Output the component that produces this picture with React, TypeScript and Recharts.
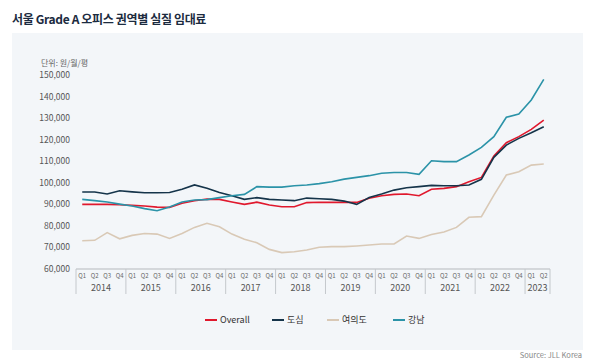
import React from "react";
import { LineChart, Line, XAxis, YAxis } from "recharts";

const years = ["2014", "2015", "2016", "2017", "2018", "2019", "2020", "2021", "2022", "2023"];
const quarters = ["Q1", "Q2", "Q3", "Q4"];

// 2014 Q1 ~ 2023 Q2
const overall = [
  90000, 90000, 90000, 89800, 89500, 89200, 88700, 88600, 90500, 91700,
  92400, 92300, 91100, 90000, 91000, 89700, 88900, 88900, 90800, 91000,
  90900, 91000, 90900, 92800, 94000, 94600, 94800, 94000, 97000, 97400,
  98200, 100500, 102500, 112400, 118600, 121400, 124800, 129100,
];
const dosim = [
  95700, 95700, 94800, 96300, 95800, 95400, 95400, 95500, 97000, 99000,
  97500, 95500, 94000, 92300, 93100, 92300, 92000, 91700, 92900, 92600,
  92300, 91500, 90000, 93200, 94800, 96600, 97700, 98200, 98800, 98600,
  98600, 99000, 101600, 111800, 117500, 120600, 123200, 126000,
];
const yeouido = [
  73100, 73300, 76900, 74000, 75600, 76500, 76200, 74200, 76500, 79300,
  81200, 79600, 76200, 73800, 72200, 69100, 67600, 68000, 68800, 70100,
  70400, 70400, 70700, 71100, 71600, 71600, 75300, 74200, 76000, 77200,
  79300, 84000, 84300, 94300, 103600, 105100, 108200, 108700,
];
const gangnam = [
  92300, 91700, 91100, 90100, 89200, 88000, 87000, 88800, 91100, 92000,
  92200, 93100, 94000, 94600, 98200, 98000, 98000, 98600, 99000, 99600,
  100500, 101700, 102500, 103300, 104400, 104800, 104800, 103900, 110200, 109800,
  109800, 112900, 116400, 121400, 130400, 131900, 138400, 148000,
];
const yTicks = [60000, 70000, 80000, 90000, 100000, 110000, 120000, 130000, 140000, 150000];

const periods = overall.map((_, i) => ({
  year: years[Math.floor(i / 4)],
  q: quarters[i % 4],
}));

const data = periods.map((p, i) => ({
  period: `${p.year} ${p.q}`,
  Overall: overall[i],
  도심: dosim[i],
  여의도: yeouido[i],
  강남: gangnam[i],
}));

const series = [
  { key: "Overall", color: "#e0182d", left: 205 },
  { key: "도심", color: "#15344a", left: 272 },
  { key: "여의도", color: "#d9c9b6", left: 327 },
  { key: "강남", color: "#2b93a8", left: 393 },
];

const FONT = "'Noto Sans CJK KR', 'Noto Sans', sans-serif";
const STEP = (550 - 76) / 38;

const QuarterTick = (props: any) => {
  const { x, y, payload } = props;
  const i = payload.index;
  const p = periods[i];
  const last = i === periods.length - 1;
  const inYear = periods.filter((d) => d.year === p.year).length;
  return (
    <g>
      <text x={x} y={y + 9} textAnchor="middle" fontSize={6} fill="#666" fontFamily={FONT}>
        {p.q}
      </text>
      {p.q === "Q1" && (
        <>
          <line x1={x - STEP / 2} x2={x - STEP / 2} y1={y} y2={y + 25} stroke="#c4c8cc" />
          <text
            x={x + ((inYear - 1) * STEP) / 2}
            y={y + 22}
            textAnchor="middle"
            fontSize={9}
            fill="#555"
            fontFamily={FONT}
          >
            {p.year}
          </text>
        </>
      )}
      {last && <line x1={x + STEP / 2} x2={x + STEP / 2} y1={y} y2={y + 25} stroke="#c4c8cc" />}
    </g>
  );
};

export default function App() {
  return (
    <div style={{ position: "absolute", left: 0, top: 0, width: 593, height: 363, background: "#fff", fontFamily: FONT }}>
      <div style={{ position: "absolute", left: 12, top: 33, width: 571, height: 317, background: "#f3f6f9" }} />
      <div style={{ position: "absolute", left: 12, top: 10, fontSize: 12, fontWeight: 700, color: "#1c2b40", letterSpacing: -0.35, whiteSpace: "nowrap" }}>
        서울 Grade A 오피스 권역별 실질 임대료
      </div>
      <div style={{ position: "absolute", left: 41, top: 57, fontSize: 8, color: "#666", whiteSpace: "nowrap" }}>
        단위: 원/월/평
      </div>
      <div style={{ position: "absolute", left: 0, top: 0 }}>
        <LineChart width={593} height={363} data={data} margin={{ top: 75, right: 43, bottom: 69, left: 12 }}>
          <XAxis
            dataKey="period"
            interval={0}
            tick={<QuarterTick />}
            tickLine={false}
            tickSize={0}
            tickMargin={0}
            height={25}
            stroke="#b5b9bd"
            padding={{ left: STEP / 2, right: STEP / 2 }}
          />
          <YAxis
            domain={[60000, 150000]}
            ticks={yTicks}
            width={64}
            axisLine={false}
            tickLine={false}
            tickSize={6}
            tickMargin={0}
            tickFormatter={(v: number) => v.toLocaleString("en-US")}
            tick={{ fontSize: 8.5, fill: "#555", fontFamily: FONT }}
          />
          {series.map((s) => (
            <Line
              key={s.key}
              dataKey={s.key}
              stroke={s.color}
              strokeWidth={1.6}
              dot={false}
              type="linear"
              isAnimationActive={false}
            />
          ))}
        </LineChart>
      </div>
      {series.map((s) => (
        <div key={s.key} style={{ position: "absolute", top: 313, left: s.left, display: "flex", alignItems: "center", fontSize: 9, color: "#333", whiteSpace: "nowrap" }}>
          <span style={{ display: "inline-block", width: 12, height: 2, background: s.color, marginRight: 3 }} />
          {s.key}
        </div>
      ))}
      <div style={{ position: "absolute", top: 349, right: 11, fontSize: 7.5, color: "#888", whiteSpace: "nowrap" }}>
        Source: JLL Korea
      </div>
    </div>
  );
}
